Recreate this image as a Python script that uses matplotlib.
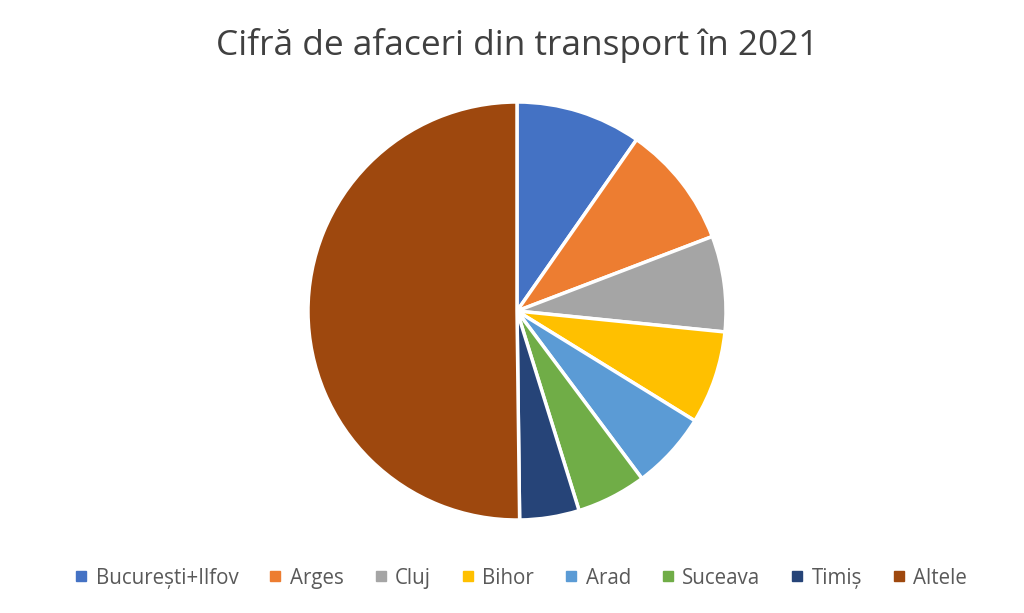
import matplotlib
matplotlib.use("Agg")
import matplotlib.pyplot as plt
from matplotlib.lines import Line2D

plt.rcParams['font.family'] = ['Open Sans', 'DejaVu Sans']

# date
judete = ['București+Ilfov', 'Arges', 'Cluj', 'Bihor', 'Arad', 'Suceava', 'Timiș', 'Altele']
procente = [9.7, 9.5, 7.4, 7.2, 6.0, 5.4, 4.6, 50.2]
culori = ['#4472C4', '#ED7D31', '#A5A5A5', '#FFC000', '#5B9BD5', '#70AD47', '#264478', '#9E480E']

fig = plt.figure(figsize=(10.24, 6.13), dpi=100)
h = 418 / 613
w = 418 / 1024
ax = fig.add_axes([517 / 1024 - w / 2, (613 - 311) / 613 - h / 2, w, h])
ax.pie(procente, colors=culori, startangle=90, counterclock=False,
       wedgeprops=dict(edgecolor='white', linewidth=2.5))
ax.set_xlim(-1, 1)
ax.set_ylim(-1, 1)
ax.set_aspect('equal')

fig.text(0.505, 0.925, 'Cifră de afaceri din transport în 2021', ha='center', va='center',
         fontsize=25.4, color='#404040')

handles = [Line2D([0], [0], marker='s', linestyle='', markersize=7.5,
                  markerfacecolor=c, markeredgecolor=c) for c in culori]
fig.legend(handles, judete, loc='center', bbox_to_anchor=(0.509, 0.057), ncol=8,
           frameon=False, fontsize=14.8, handlelength=0.6, handletextpad=0.4,
           columnspacing=1.5, labelcolor='#595959')

fig.savefig('out.png', dpi=100)
